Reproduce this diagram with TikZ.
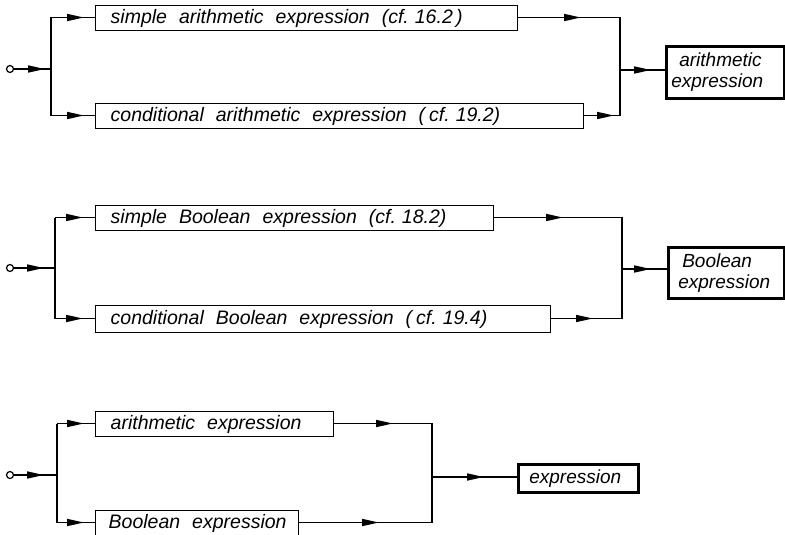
\documentclass[tikz,border=0pt]{standalone}
\usepackage{fontspec}
\setmainfont{Liberation Sans}
\usetikzlibrary{arrows.meta}
\newcommand{\cfgap}{\hspace{6pt}}
\tikzset{
  wire/.style={line width=1.6pt},
  feed/.style={line width=1.6pt, -{Triangle[length=17pt,width=7pt]}},
  box/.style={draw, line width=1.4pt, anchor=north west, inner ysep=0pt,
    font={\itshape\fontsize{19.5}{22}\selectfont},
    execute at begin node={\spaceskip=12pt plus 2pt minus 2pt\relax\xspaceskip=12pt\relax}},
  result/.style={draw, anchor=north west, inner ysep=0pt, align=left,
    line width=2.6pt, font={\itshape\fontsize{19}{21}\selectfont}},
  start/.style={circle, draw, line width=1.2pt, inner sep=0pt, minimum size=7pt},
}
\begin{document}
\begin{tikzpicture}[x=1pt,y=-1pt]
\useasboundingbox (0,0) rectangle (785,535);

% ---------- arithmetic expression ----------
\node[start] (c1) at (10,69) {};
\coordinate (j1) at (51,69);
\coordinate (j1t) at (51,17.5);
\coordinate (j1b) at (51,115.5);
\node[box, text width=392pt, inner xsep=15pt, minimum height=25pt] (a1) at (95,5)
  {\mbox{simple arithmetic expression (cf.\cfgap 16.2\,)}};
\node[box, text width=458pt, inner xsep=15pt, minimum height=25pt] (a2) at (95,103)
  {\mbox{conditional arithmetic expression (\hspace{4pt}cf.\cfgap 19.2)}};
\coordinate (m1t) at (620,17.5);
\coordinate (m1b) at (620,115.5);
\coordinate (m1) at (620,70);
\node[result, text width=108pt, inner xsep=5pt, minimum height=52pt] (o1) at (665,45)
  {\hspace*{8pt}arithmetic\\expression};

\draw[wire] (c1) -- (j1);
\draw[feed] (c1) -- (45,69);
\draw[wire] (j1t) -- (j1b);
\draw[wire] (j1t) -- (a1.west |- j1t);
\draw[feed] (j1t) -- (84,17.5);
\draw[wire] (j1b) -- (a2.west |- j1b);
\draw[feed] (j1b) -- (84,115.5);
\draw[wire] (a1.east |- m1t) -- (m1t) -- (m1b) -- (a2.east |- m1b);
\draw[feed] (a1.east |- m1t) -- (581,17.5);
\draw[feed] (a2.east |- m1b) -- (614,115.5);
\draw[wire] (m1) -- (o1.west |- m1);
\draw[feed] (m1) -- (651,70);

% ---------- Boolean expression ----------
\node[start] (c2) at (10,268) {};
\coordinate (j2) at (55,268);
\coordinate (j2t) at (55,217.5);
\coordinate (j2b) at (55,318.5);
\node[box, text width=368pt, inner xsep=15pt, minimum height=25pt] (b1) at (95,205)
  {\mbox{simple Boolean expression (cf.\cfgap 18.2)}};
\node[box, text width=425pt, inner xsep=15pt, minimum height=27pt] (b2) at (95,305)
  {\mbox{conditional Boolean expression (\hspace{4pt}cf.\cfgap 19.4)}};
\coordinate (m2t) at (622,217.5);
\coordinate (m2b) at (622,318.5);
\coordinate (m2) at (622,269);
\node[result, text width=96pt, inner xsep=10pt, minimum height=51pt] (o2) at (667,246)
  {\hspace*{4pt}Boolean\\expression};

\draw[wire] (c2) -- (j2);
\draw[feed] (c2) -- (44,268);
\draw[wire] (j2t) -- (j2b);
\draw[wire] (j2t) -- (b1.west |- j2t);
\draw[feed] (j2t) -- (83,217.5);
\draw[wire] (j2b) -- (b2.west |- j2b);
\draw[feed] (j2b) -- (83,318.5);
\draw[wire] (b1.east |- m2t) -- (m2t) -- (m2b) -- (b2.east |- m2b);
\draw[feed] (b1.east |- m2t) -- (563,217.5);
\draw[feed] (b2.east |- m2b) -- (593,318.5);
\draw[wire] (m2) -- (o2.west |- m2);
\draw[feed] (m2) -- (651,269);

% ---------- expression ----------
\node[start] (c3) at (10,475) {};
\coordinate (j3) at (57,475);
\coordinate (j3t) at (57,423.5);
\coordinate (j3b) at (57,522.5);
\node[box, text width=208pt, inner xsep=15pt, minimum height=25pt] (e1) at (95,411)
  {\mbox{arithmetic expression}};
\node[box, text width=177pt, inner xsep=13pt, minimum height=25pt, xshift=2pt] (e2) at (93,510)
  {\mbox{Boolean expression}};
\coordinate (m3t) at (432,423.5);
\coordinate (m3b) at (432,522.5);
\coordinate (m3) at (432,477);
\node[result, text width=98pt, inner xsep=11pt, minimum height=28pt] (o3) at (517,463)
  {expression};

\draw[wire] (c3) -- (j3);
\draw[feed] (c3) -- (44,475);
\draw[wire] (j3t) -- (j3b);
\draw[wire] (j3t) -- (e1.west |- j3t);
\draw[feed] (j3t) -- (84,423.5);
\draw[wire] (j3b) -- (e2.west |- j3b);
\draw[feed] (j3b) -- (84,522.5);
\draw[wire] (e1.east |- m3t) -- (m3t) -- (m3b) -- (e2.east |- m3b);
\draw[feed] (e1.east |- m3t) -- (393,423.5);
\draw[feed] (e2.east |- m3b) -- (379,522.5);
\draw[wire] (m3) -- (o3.west |- m3);
\draw[feed] (m3) -- (484,477);
\end{tikzpicture}
\end{document}
